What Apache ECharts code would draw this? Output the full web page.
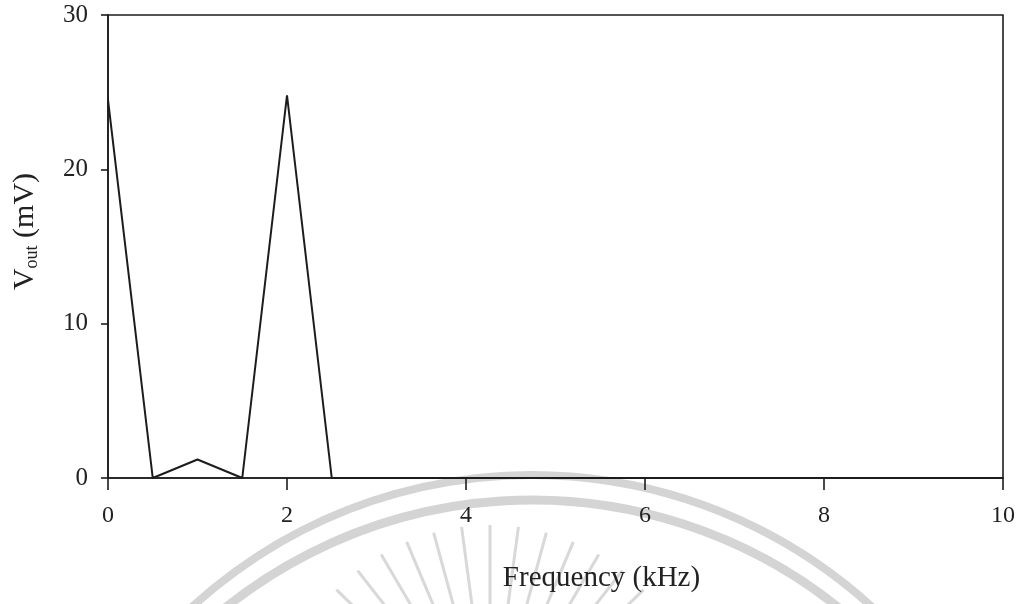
<!DOCTYPE html>
<html>
<head>
<meta charset="utf-8">
<script src="https://cdn.jsdelivr.net/npm/echarts@6/dist/echarts.min.js"></script>
<style>
  html, body { margin: 0; padding: 0; background: #fff; }
  #chart { width: 1021px; height: 604px; }
</style>
</head>
<body>
<div id="chart"></div>
<script>
// Spectrum of the output voltage
const frequencyKHz = [0, 0.5, 1, 1.5, 2, 2.5, 10];
const voutMV = [24.5, 0, 1.2, 0, 24.8, 0, 0];
const xTicks = [0, 2, 4, 6, 8, 10];
const yTicks = [0, 10, 20, 30];

const ink = '#1c1c1c';
const serif = '"Liberation Serif", "DejaVu Serif", serif';

const points = frequencyKHz.map((f, i) => [f, voutMV[i]]);

// faint circular emblem behind the lower part of the plot
const emblem = [];
emblem.push({
  type: 'arc', silent: true, z: -10,
  shape: { cx: 532, cy: 979, r: 504, startAngle: Math.PI * 1.05, endAngle: Math.PI * 1.95 },
  style: { stroke: '#d4d4d4', lineWidth: 8, fill: null }
});
emblem.push({
  type: 'arc', silent: true, z: -10,
  shape: { cx: 532, cy: 990, r: 490, startAngle: Math.PI * 1.1, endAngle: Math.PI * 1.9 },
  style: { stroke: '#d4d4d4', lineWidth: 9, fill: null }
});
for (let k = 0; k < 19; k++) {
  const a = Math.PI * (1.12 + k * 0.76 / 18);
  const cx = 490, cy = 740, r0 = 130, r1 = 215;
  emblem.push({
    type: 'line', silent: true, z: -10,
    shape: { x1: cx + r0 * Math.cos(a), y1: cy + r0 * Math.sin(a), x2: cx + r1 * Math.cos(a), y2: cy + r1 * Math.sin(a) },
    style: { stroke: '#d8d8d8', lineWidth: 3 }
  });
}

const chart = echarts.init(document.getElementById('chart'), null, { renderer: 'canvas' });
chart.setOption({
  animation: false,
  backgroundColor: '#ffffff',
  graphic: emblem,
  grid: {
    left: 108, top: 15, width: 895, height: 463,
    outerBoundsMode: 'none', containLabel: false,
    show: true, borderColor: ink, borderWidth: 1.6, backgroundColor: 'transparent'
  },
  xAxis: {
    type: 'value', min: xTicks[0], max: xTicks[xTicks.length - 1], interval: 2,
    name: 'Frequency (kHz)', nameLocation: 'middle', nameGap: 86,
    nameTextStyle: { fontFamily: serif, fontSize: 29, color: '#222', padding: [0, 0, 0, 92] },
    axisLine: { show: true, lineStyle: { color: ink, width: 1.6 } },
    axisTick: { show: true, length: 12, lineStyle: { color: ink, width: 1.6 } },
    axisLabel: { fontFamily: serif, fontSize: 24, color: '#222', margin: 26 },
    splitLine: { show: false }
  },
  yAxis: {
    type: 'value', min: yTicks[0], max: yTicks[yTicks.length - 1], interval: 10,
    name: '{v|V}{s|out}{v| (mV)}', nameLocation: 'middle', nameGap: 66, nameRotate: 90,
    nameTextStyle: {
      fontFamily: serif, color: '#222', padding: [0, 0, 0, 30],
      rich: {
        v: { fontFamily: serif, fontSize: 30, color: '#222', lineHeight: 34 },
        s: { fontFamily: serif, fontSize: 18, color: '#222', lineHeight: 34, padding: [15, 0, 0, 0] }
      }
    },
    axisLine: { show: true, lineStyle: { color: ink, width: 1.6 } },
    axisTick: { show: true, length: 7, lineStyle: { color: ink, width: 1.6 } },
    axisLabel: { fontFamily: serif, fontSize: 25, color: '#222', margin: 20 },
    splitLine: { show: false }
  },
  series: [{
    type: 'line',
    data: points,
    symbol: 'none',
    lineStyle: { color: ink, width: 2 },
    z: 3
  }]
});
</script>
</body>
</html>
